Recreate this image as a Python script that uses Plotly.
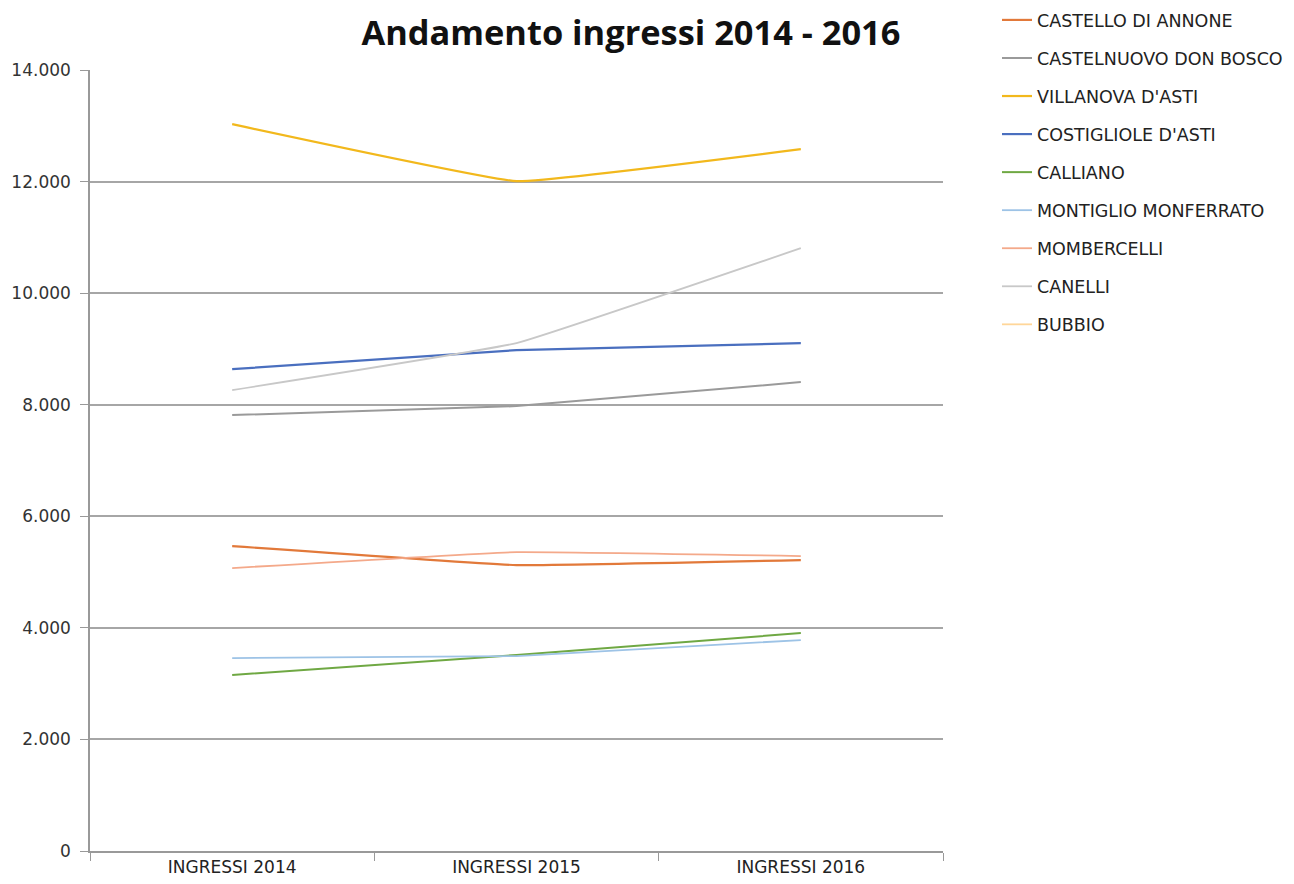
import plotly.graph_objects as go

categories = ["INGRESSI 2014", "INGRESSI 2015", "INGRESSI 2016"]

series_names = [
    "CASTELLO DI ANNONE",
    "CASTELNUOVO DON BOSCO",
    "VILLANOVA D'ASTI",
    "COSTIGLIOLE D'ASTI",
    "CALLIANO",
    "MONTIGLIO MONFERRATO",
    "MOMBERCELLI",
    "CANELLI",
    "BUBBIO",
]

castello_di_annone = [5466, 5125, 5215]
castelnuovo_don_bosco = [7814, 7975, 8405]
villanova_dasti = [13029, 12007, 12581]
costigliole_dasti = [8638, 8978, 9104]
calliano = [3154, 3513, 3907]
montiglio_monferrato = [3459, 3495, 3781]
mombercelli = [5072, 5358, 5287]
canelli = [8262, 9104, 10806]
bubbio = [None, None, None]

series_values = [
    castello_di_annone, castelnuovo_don_bosco, villanova_dasti,
    costigliole_dasti, calliano, montiglio_monferrato, mombercelli,
    canelli, bubbio,
]

colors = ["#E2793A", "#9A9A9A", "#F2B81C", "#4A6FBF", "#6FA843",
          "#9DC3E6", "#F4A98A", "#C8C8C8", "#FFD699"]
widths = [2.2, 2, 2.2, 2.2, 2, 1.8, 1.8, 1.8, 1.8]

tick_vals = [0, 2000, 4000, 6000, 8000, 10000, 12000, 14000]

fig = go.Figure()
for i, (name, vals) in enumerate(zip(series_names, series_values)):
    fig.add_trace(go.Scatter(
        x=categories, y=vals, name=name, mode="lines",
        line=dict(color=colors[i], width=widths[i], shape="spline", smoothing=0.25),
        legendgroup=f"g{i}",
    ))

# the page body adds an 8px offset, so the figure is 8px smaller than the window
fig.update_layout(
    width=1286, height=876,
    paper_bgcolor="white", plot_bgcolor="white",
    margin=dict(l=82, r=351, t=62, b=33, autoexpand=False),
    separators=",.",
    title=dict(text="<b>Andamento ingressi 2014 - 2016</b>",
               x=0.4844, xanchor="center", y=0.9715, yanchor="middle",
               font=dict(family="Open Sans", size=34.4, color="#111111")),
    legend=dict(x=1.0633, xanchor="left", y=1.087, yanchor="top",
                font=dict(family="DejaVu Sans", size=17.5, color="#222222"),
                tracegroupgap=12.3, bgcolor="rgba(0,0,0,0)"),
    showlegend=True,
)

fig.update_xaxes(
    type="category", tickson="boundaries", ticks="outside", ticklen=8,
    tickcolor="#999999", showline=True, linecolor="#999999", linewidth=1.5,
    showgrid=False, tickfont=dict(family="DejaVu Sans", size=17, color="#222222"),
    range=[-0.5, 2.5], automargin=False,
)
fig.update_yaxes(
    range=[0, 14000], tickvals=tick_vals, tickformat=",d",
    ticks="outside", ticklen=8, tickcolor="#999999",
    showline=True, linecolor="#999999", linewidth=1.5,
    showgrid=True, gridcolor="#A6A6A6", gridwidth=1.5, zeroline=False,
    tickfont=dict(family="DejaVu Sans", size=17, color="#333333"),
    ticklabelstandoff=6, automargin=False,
)

fig.write_html("out.html")
